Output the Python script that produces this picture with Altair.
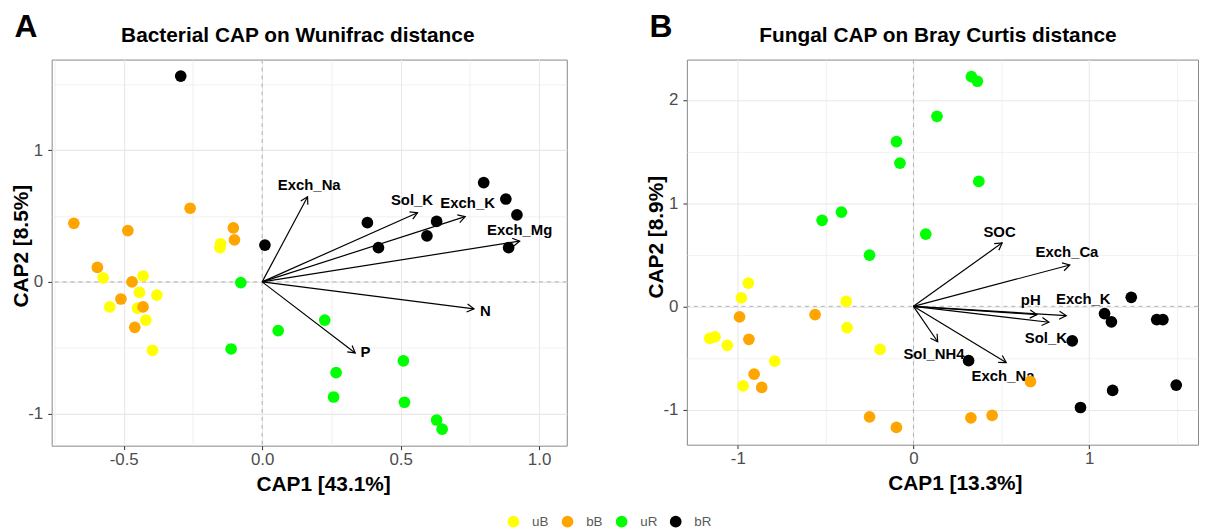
import math
import altair as alt
import pandas as pd

groups = ["uB", "bB", "uR", "bR"]
colors = ["#FFFF00", "#FFA500", "#00FF00", "#000000"]

# ---------------- Panel A : Bacterial CAP on Wunifrac distance ----------------
a_uB_x = [-0.15, -0.152, -0.574, -0.43, -0.443, -0.38, -0.55, -0.45, -0.42, -0.396]
a_uB_y = [0.29, 0.26, 0.03, 0.045, -0.08, -0.10, -0.19, -0.20, -0.29, -0.52]
a_bB_x = [-0.68, -0.485, -0.26, -0.104, -0.10, -0.595, -0.47, -0.51, -0.43, -0.46]
a_bB_y = [0.445, 0.39, 0.56, 0.41, 0.32, 0.11, 0.0, -0.13, -0.19, -0.345]
a_uR_x = [-0.077, -0.112, 0.058, 0.226, 0.267, 0.258, 0.51, 0.514, 0.63, 0.65]
a_uR_y = [-0.005, -0.51, -0.37, -0.29, -0.69, -0.875, -0.60, -0.915, -1.05, -1.12]
a_bR_x = [-0.294, 0.80, 0.88, 0.92, 0.38, 0.63, 0.595, 0.42, 0.89, 0.01]
a_bR_y = [1.565, 0.755, 0.63, 0.51, 0.45, 0.46, 0.35, 0.26, 0.26, 0.28]

a_vars = ["Exch_Na", "Sol_K", "Exch_K", "Exch_Mg", "N", "P"]
a_arrow_x = [0.164, 0.561, 0.733, 0.93, 0.765, 0.336]
a_arrow_y = [0.647, 0.526, 0.496, 0.31, -0.205, -0.54]
a_label_x = [0.17, 0.541, 0.742, 0.93, 0.806, 0.373]
a_label_y = [0.733, 0.619, 0.596, 0.395, -0.221, -0.536]

a_x_ticks = [-0.75, -0.5, -0.25, 0.0, 0.25, 0.5, 0.75, 1.0]
a_y_ticks = [-1.0, -0.5, 0.0, 0.5, 1.0, 1.5]

# ---------------- Panel B : Fungal CAP on Bray Curtis distance ----------------
b_uB_x = [-0.94, -0.98, -0.383, -0.378, -1.16, -1.13, -1.06, -0.19, -0.79, -0.97]
b_uB_y = [0.224, 0.083, 0.048, -0.206, -0.31, -0.295, -0.378, -0.417, -0.53, -0.77]
b_bB_x = [-0.99, -0.56, -0.937, -0.907, -0.864, 0.666, -0.25, -0.097, 0.327, 0.448]
b_bB_y = [-0.103, -0.08, -0.32, -0.657, -0.785, -0.728, -1.07, -1.173, -1.08, -1.057]
b_uR_x = [0.33, 0.364, 0.134, -0.097, -0.077, 0.372, -0.41, -0.52, 0.07, -0.25]
b_uR_y = [2.224, 2.18, 1.84, 1.596, 1.387, 1.21, 0.913, 0.833, 0.70, 0.496]
b_bR_x = [1.24, 1.088, 1.127, 1.385, 1.42, 0.904, 0.314, 1.496, 1.134, 0.951]
b_bR_y = [0.087, -0.07, -0.15, -0.128, -0.128, -0.334, -0.526, -0.763, -0.815, -0.98]

b_vars = ["SOC", "Exch_Ca", "pH", "Exch_K", "Sol_K", "Sol_NH4", "Exch_Na"]
b_arrow_x = [0.505, 0.89, 0.703, 0.87, 0.771, 0.138, 0.528]
b_arrow_y = [0.615, 0.40, -0.08, -0.09, -0.154, -0.343, -0.545]
b_label_x = [0.49, 0.874, 0.668, 0.967, 0.754, 0.117, 0.51]
b_label_y = [0.721, 0.522, 0.058, 0.073, -0.305, -0.465, -0.672]

b_x_ticks = [-1.0, -0.5, 0.0, 0.5, 1.0, 1.5]
b_y_ticks = [-1.0, -0.5, 0.0, 0.5, 1.0, 1.5, 2.0]

FONT = "Liberation Sans"


def points_df(xs_list, ys_list):
    rows = []
    for g, xs, ys in zip(groups, xs_list, ys_list):
        for x, y in zip(xs, ys):
            rows.append({"x": x, "y": y, "group": g})
    return pd.DataFrame(rows)


def minor_test(step):
    return f"abs(datum.value / {step} - round(datum.value / {step})) > 0.001"


def make_axis(vals, step, fmt, title, orient, title_pos):
    test = minor_test(step)
    label_expr = (f"{test} ? '' : (datum.value < -0.0001 ? '-' : '') + "
                  f"format(abs(datum.value), '{fmt}')")
    kw = dict(
        values=vals, title=title, labelExpr=label_expr, labelOverlap=False,
        labelFlush=False, grid=True, gridColor="#e8e8e8",
        gridWidth={"condition": {"test": test, "value": 0.6}, "value": 1.1},
        tickOpacity={"condition": {"test": test, "value": 0}, "value": 1},
        tickColor="#333333", tickSize=4, tickWidth=1, domain=False,
        labelFont=FONT, labelFontSize=17, labelColor="#4d4d4d",
        titleFont=FONT, titleFontSize=21, titleFontWeight="bold", titleColor="black",
        orient=orient,
    )
    if orient == "bottom":
        kw.update(labelPadding=2, titleX=title_pos, titleY=45,
                  titleBaseline="alphabetic", titleAlign="center")
    else:
        kw.update(labelPadding=5, titleX=-30.5, titleY=title_pos, titleAngle=270,
                  titleBaseline="middle", titleAlign="center")
    return alt.Axis(**kw)


def build_panel(pts, vars_, ax, ay, lx, ly, xdom, ydom, xticks, yticks, xstep, ystep,
                xfmt, width, height, title, title_dx, letter, xtitle, ytitle,
                xtitle_x, ytitle_y, legend):
    sx = width / (xdom[1] - xdom[0])
    sy = height / (ydom[1] - ydom[0])
    arr = pd.DataFrame({"var": vars_, "x": ax, "y": ay, "lx": lx, "ly": ly})
    arr["x0"] = 0.0
    arr["y0"] = 0.0
    arr["angle"] = [math.degrees(math.atan2(-y * sy, x * sx)) % 360 for x, y in zip(ax, ay)]

    xscale = alt.Scale(domain=xdom, nice=False, zero=False)
    yscale = alt.Scale(domain=ydom, nice=False, zero=False)
    xaxis = make_axis(xticks, xstep, xfmt, xtitle, "bottom", xtitle_x)
    yaxis = make_axis(yticks, ystep, ".0f", ytitle, "left", ytitle_y)

    def X(f):
        return alt.X(f, type="quantitative", scale=xscale, axis=xaxis)

    def Y(f):
        return alt.Y(f, type="quantitative", scale=yscale, axis=yaxis)

    zero = pd.DataFrame({"v": [0.0]})
    vline = alt.Chart(zero).mark_rule(color="#b0b0b0", strokeDash=[4, 4], strokeWidth=1).encode(x=X("v"))
    hline = alt.Chart(zero).mark_rule(color="#b0b0b0", strokeDash=[4, 4], strokeWidth=1).encode(y=Y("v"))

    pts_layer = alt.Chart(pts).mark_circle(size=139, opacity=1).encode(
        x=X("x"), y=Y("y"),
        color=alt.Color("group:N", scale=alt.Scale(domain=groups, range=colors),
                        sort=groups, legend=legend),
    )
    shafts = alt.Chart(arr).mark_rule(color="black", strokeWidth=1.2).encode(
        x=X("x0"), x2="x", y=Y("y0"), y2="y")
    heads = alt.Chart(arr).mark_point(
        shape="M -1 -0.58 L 0 0 L -1 0.58", filled=False, color="black",
        strokeWidth=1.2, size=196, opacity=1,
    ).encode(x=X("x"), y=Y("y"), angle=alt.Angle("angle:Q", scale=None))
    labels = alt.Chart(arr).mark_text(
        font=FONT, fontSize=15, fontWeight="bold", color="black",
        align="center", baseline="middle",
    ).encode(x=X("lx"), y=Y("ly"), text="var:N")
    letter_layer = alt.Chart(pd.DataFrame({"t": [letter]})).mark_text(
        font=FONT, fontSize=32, fontWeight="bold", color="black",
        align="center", baseline="alphabetic",
    ).encode(x=alt.value(-26), y=alt.value(-23), text="t:N")

    return alt.layer(vline, hline, shafts, heads, labels, pts_layer, letter_layer).properties(
        width=width, height=height,
        title=alt.TitleParams(text=title, font=FONT, fontSize=21, fontWeight="bold",
                              color="black", anchor="middle", frame="group",
                              dx=title_dx, offset=-35.6),
    )


legend_a = alt.Legend(
    orient="none", legendX=458.5, legendY=458.5, direction="horizontal", title=None,
    symbolType="circle", symbolSize=139, symbolStrokeWidth=0, labelFont=FONT,
    labelFontSize=13.5, labelColor="#5a5a5a", labelOffset=12, columnPadding=11.5,
    padding=0,
)

panel_a = build_panel(
    points_df([a_uB_x, a_bB_x, a_uR_x, a_bR_x], [a_uB_y, a_bB_y, a_uR_y, a_bR_y]),
    a_vars, a_arrow_x, a_arrow_y, a_label_x, a_label_y,
    [-0.76, 1.10], [-1.245, 1.69], a_x_ticks, a_y_ticks, 0.5, 1.0, ".1f",
    519, 389, "Bacterial CAP on Wunifrac distance", -11.5, "A",
    "CAP1 [43.1%]", "CAP2 [8.5%]", 273.5, 187.5, legend_a,
)
panel_b = build_panel(
    points_df([b_uB_x, b_bB_x, b_uR_x, b_bR_x], [b_uB_y, b_bB_y, b_uR_y, b_bR_y]),
    b_vars, b_arrow_x, b_arrow_y, b_label_x, b_label_y,
    [-1.29, 1.62], [-1.34, 2.39], b_x_ticks, b_y_ticks, 1.0, 1.0, ".0f",
    515, 388, "Fungal CAP on Bray Curtis distance", -4.5, "B",
    "CAP1 [13.3%]", "CAP2 [8.9%]", 270, 178.5, None,
)

chart = alt.hconcat(panel_a, panel_b, spacing=121, bounds="flush").resolve_scale(
    color="independent").resolve_legend(color="independent").configure_view(
    stroke="#888888", strokeWidth=1).properties(
    padding={"left": 2, "top": 0, "right": 0, "bottom": 0})

chart.save("out.html", embed_options={"renderer": "svg", "actions": False})
